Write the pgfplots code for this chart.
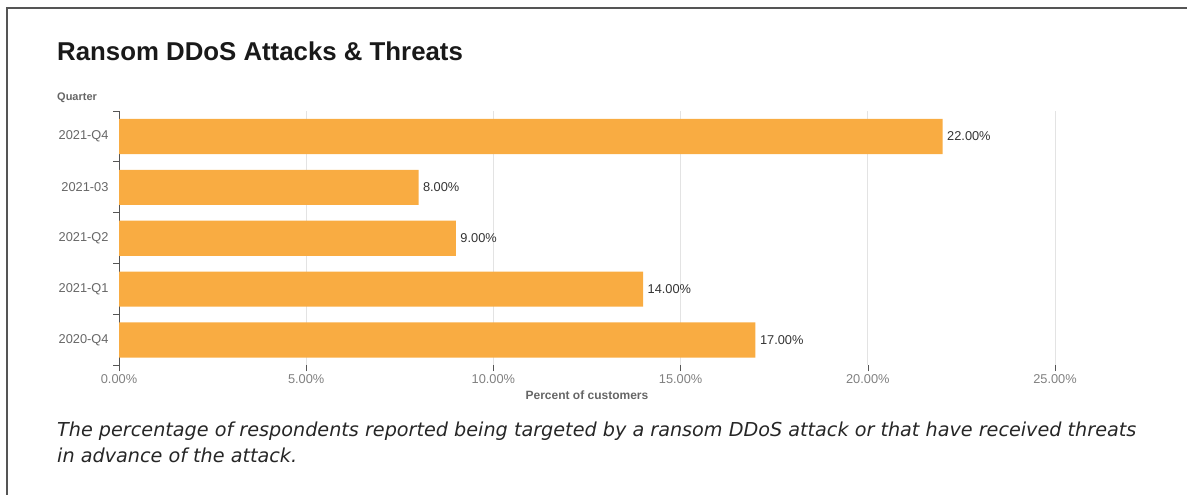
\documentclass[border=0pt]{standalone}
\usepackage{pgfplots}
\pgfplotsset{compat=1.18}
\usepackage{fontspec}
\setmainfont{Liberation Sans}
\newfontfamily\capfont{DejaVu Sans}
\definecolor{barorange}{HTML}{F9AC42}
\definecolor{ticklab}{HTML}{666666}
\definecolor{xticklab}{HTML}{808080}
\definecolor{gridc}{HTML}{E3E3E3}
\definecolor{axisc}{HTML}{555555}
\begin{document}
\begin{tikzpicture}
\path[use as bounding box] (0pt,0pt) rectangle (1187pt,495pt);
\draw[color=axisc, line width=1.5pt] (7pt,0pt) -- (7pt,487pt) -- (1187pt,487pt);
\node[anchor=base west, inner sep=0pt, text=black!90] at (57pt,434pt) {\fontsize{25.8}{30}\selectfont\bfseries Ransom DDoS Attacks \& Threats};
\node[anchor=base west, inner sep=0pt, text=ticklab] at (57pt,394pt) {\fontsize{11}{13}\selectfont\bfseries Quarter};
\node[anchor=base west, inner sep=0pt, text=black!85] at (57pt,58pt) {\capfont\fontsize{19.2}{22}\selectfont\itshape The percentage of respondents reported being targeted by a ransom DDoS attack or that have received threats};
\node[anchor=base west, inner sep=0pt, text=black!85] at (57pt,32pt) {\capfont\fontsize{19.2}{22}\selectfont\itshape in advance of the attack.};
\begin{axis}[
  at={(119pt,129.5pt)}, anchor=south west,
  width=936pt, height=254.5pt, scale only axis,
  xbar, bar width=0.69,
  xmin=0, xmax=25, ymin=-0.5, ymax=4.5,
  axis lines*=left,
  x axis line style={draw=none},
  y axis line style={color=axisc, line width=0.8pt},
  xtick={0,5,10,15,20,25},
  xticklabel={\pgfmathprintnumber[fixed,fixed zerofill,precision=2]{\tick}\%},
  /pgf/number format/assume math mode=true,
  xtick align=outside,
  major tick length=6pt, minor tick length=6pt,
  major x tick style={color=axisc, line width=0.6pt},
  ytick={0,1,2,3,4},
  yticklabels={2020-Q4,2021-Q1,2021-Q2,2021-03,2021-Q4},
  major y tick style={draw=none},
  minor ytick={-0.5,0.5,1.5,2.5,3.5,4.5},
  minor y tick style={color=axisc, line width=0.8pt},
  ytick align=outside,
  xmajorgrids, grid style={color=gridc, line width=0.8pt},
  tick label style={font=\fontsize{12.8}{14}\selectfont, text=ticklab},
  xticklabel style={text=xticklab},
  yticklabel style={xshift=-1pt},
  xlabel={Percent of customers},
  xlabel style={font=\fontsize{12}{14}\selectfont\bfseries, text=ticklab, at={(axis description cs:0.5,0)}, anchor=center, yshift=-30pt},
  nodes near coords={\pgfmathprintnumber[fixed,fixed zerofill,precision=2]{\pgfplotspointmeta}\%},
  point meta=x,
  nodes near coords style={font=\fontsize{12.8}{14}\selectfont, text=black!80, anchor=west, xshift=1pt},
  clip=false,
]
\addplot[fill=barorange, draw=none] coordinates {(17,0) (14,1) (9,2) (8,3) (22,4)};
\end{axis}
\end{tikzpicture}
\end{document}
